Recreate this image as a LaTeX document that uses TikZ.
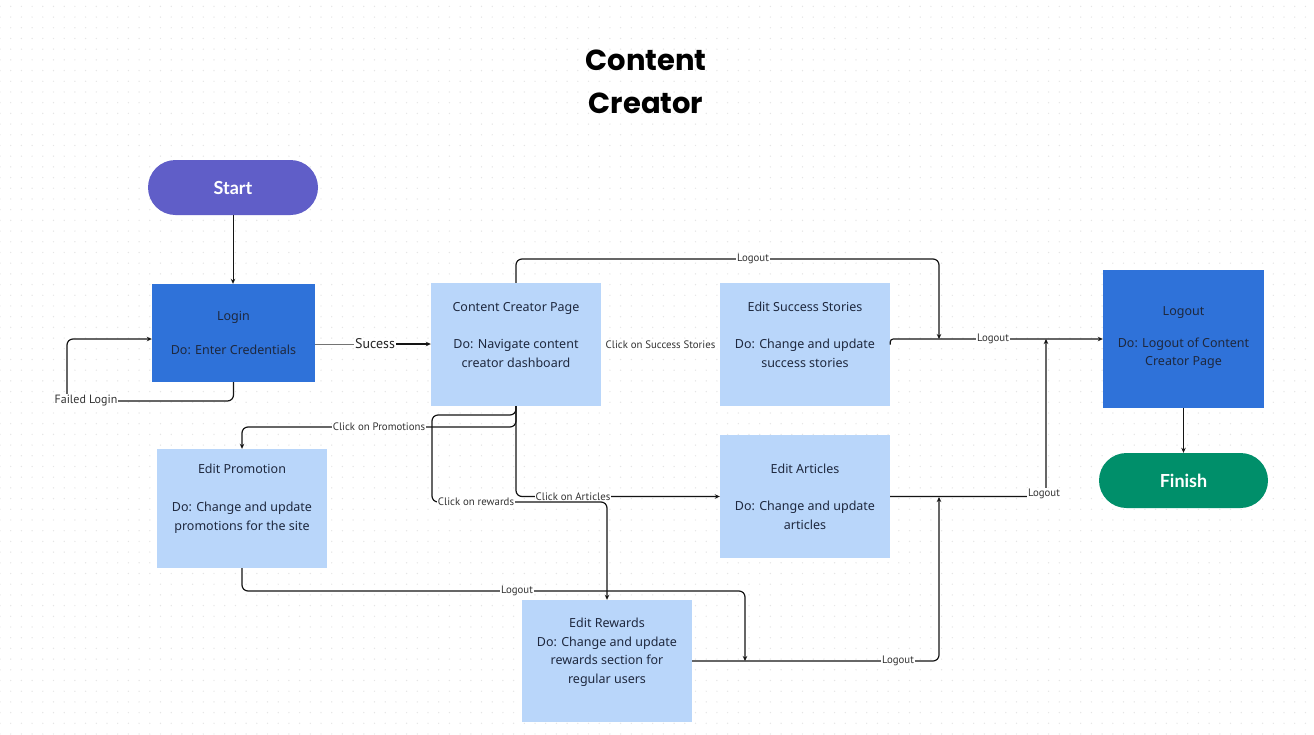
\documentclass[tikz,border=0pt]{standalone}
\usepackage{fontspec}
\setmainfont{Noto Sans}
\newfontfamily\titlefont{Poppins}
\newfontfamily\lblfont{PT Sans}
\newfontfamily\pillfont{Lato}
\usetikzlibrary{arrows.meta,shapes.misc,patterns.meta}
\definecolor{startc}{RGB}{96,94,200}
\definecolor{darkc}{RGB}{47,114,217}
\definecolor{lightc}{RGB}{185,214,250}
\definecolor{finishc}{RGB}{0,143,106}
\definecolor{txtc}{RGB}{30,40,62}
\definecolor{linec}{RGB}{20,20,20}
\tikzset{
  pill/.style={rounded rectangle, inner sep=0, minimum width=170pt, minimum height=55pt, text=white, font=\pillfont\bfseries\fontsize{18}{20}\selectfont},
  darkbox/.style={rectangle, fill=darkc, inner sep=0},
  lightbox/.style={rectangle, fill=lightc, inner sep=0},
  bt/.style={align=center, text=txtc, inner sep=0, font=\fontsize{12.5}{18.5}\selectfont},
  lbl/.style={fill=white, inner sep=1pt, text=black!80, font=\lblfont\fontsize{10.8}{12}\selectfont},
  conn/.style={draw=linec, line width=1.2pt, rounded corners=6pt},
  arr/.style={conn, -{Stealth[length=5pt,width=4.5pt]}}
}
\begin{document}
\begin{tikzpicture}[x=1pt,y=-1pt]
\useasboundingbox (0,0) rectangle (1314,734);
\fill[white] (0,0) rectangle (1314,734);
\fill[pattern={Dots[distance=10.7pt,radius=0.7pt]}, pattern color=black!10] (0,0) rectangle (1314,734);

% title
\node[align=center, font=\titlefont\bfseries\fontsize{29}{43}\selectfont] (title) at (646,82) {Content\\Creator};

% boxes
\node[pill, fill=startc] (start) at (233,187.5) {Start};
\node[darkbox, minimum width=163pt, minimum height=98pt] (login) at (233.5,333) {};
\node[bt] (login-t) at (233.5,333) {Login\\[15.5pt]Do: Enter Credentials};
\node[lightbox, minimum width=170pt, minimum height=123pt] (ccp) at (516,344.5) {};
\node[bt] (ccp-t) at (516,335) {Content Creator Page\\[18.5pt]Do: Navigate content\\creator dashboard};
\node[lightbox, minimum width=170pt, minimum height=123pt] (ess) at (805,344.5) {};
\node[bt] (ess-t) at (805,335) {Edit Success Stories\\[18.5pt]Do: Change and update\\success stories};
\node[darkbox, minimum width=161pt, minimum height=138pt] (logout) at (1183.5,339) {};
\node[bt] (logout-t) at (1183.5,338) {Logout\\[13pt]Do: Logout of Content\\Creator Page};
\node[pill, fill=finishc, minimum width=169pt] (finish) at (1183.5,480.5) {Finish};
\node[lightbox, minimum width=170pt, minimum height=119pt] (promo) at (242,508.5) {};
\node[bt] (promo-t) at (242,498.5) {Edit Promotion\\[19.5pt]Do: Change and update\\promotions for the site};
\node[lightbox, minimum width=170pt, minimum height=123pt] (art) at (805,496.5) {};
\node[bt] (art-t) at (805,497) {Edit Articles\\[18.5pt]Do: Change and update\\articles};
\node[lightbox, minimum width=170pt, minimum height=122pt] (rew) at (607,661) {};
\node[bt] (rew-t) at (607,652) {Edit Rewards\\Do: Change and update\\rewards section for\\regular users};

% connectors
\draw[arr, line width=1pt] (start.south) -- (start.south |- login.north);
\node[inner sep=1pt, fill=white, text=black!85, font=\lblfont\fontsize{14}{15}\selectfont] (suc) at (375,344) {Sucess};
\draw[conn, draw=black!55, line width=1pt] (login.east |- suc) -- (suc.west);
\draw[arr] (suc.east) -- (ccp.west |- suc);

\draw[arr] (login.south) |- (67,401) |- ([yshift=-6pt]login.west);
\node[lbl, font=\lblfont\fontsize{12}{13}\selectfont] (fl) at (86,401) {Failed Login};

\draw[conn] ([xshift=1pt]ccp.east |- 0,345) -- ([xshift=-1pt]ess.west |- 0,345) node[lbl, midway, inner xsep=0pt, minimum width=118pt] (css) {Click on Success Stories};

\draw[arr] (ccp.north) |- (939,259) -- (939,339);
\node[lbl] (lo1) at (753,259) {Logout};

\draw[arr, rounded corners=3pt] (ess.east) |- (logout.west);
\node[lbl] (lo2) at (993,339) {Logout};

\draw[arr] (art.east) -| (1046,339);
\node[lbl] (lo3) at (1044,494) {Logout};

\draw[arr] (ccp.south) |- (242,427) -- (promo.north);
\node[lbl] (cp) at (379,427) {Click on Promotions};

\draw[arr] (ccp.south) |- (art.west);
\node[lbl, inner sep=0.5pt] (ca) at (573,497) {Click on Articles};

\draw[arr] (ccp.south) -- (516,415) -| (432,502) -| (rew.north);
\node[lbl] (cr) at (476,502) {Click on rewards};

\draw[arr] (promo.south) |- (745,591) -- (745,661);
\node[lbl] (lo4) at (517,591) {Logout};

\draw[arr] (rew.east) -| (939,497);
\node[lbl] (lo5) at (898,661) {Logout};

\draw[arr] (logout.south) -- (finish.north);
\end{tikzpicture}
\end{document}
